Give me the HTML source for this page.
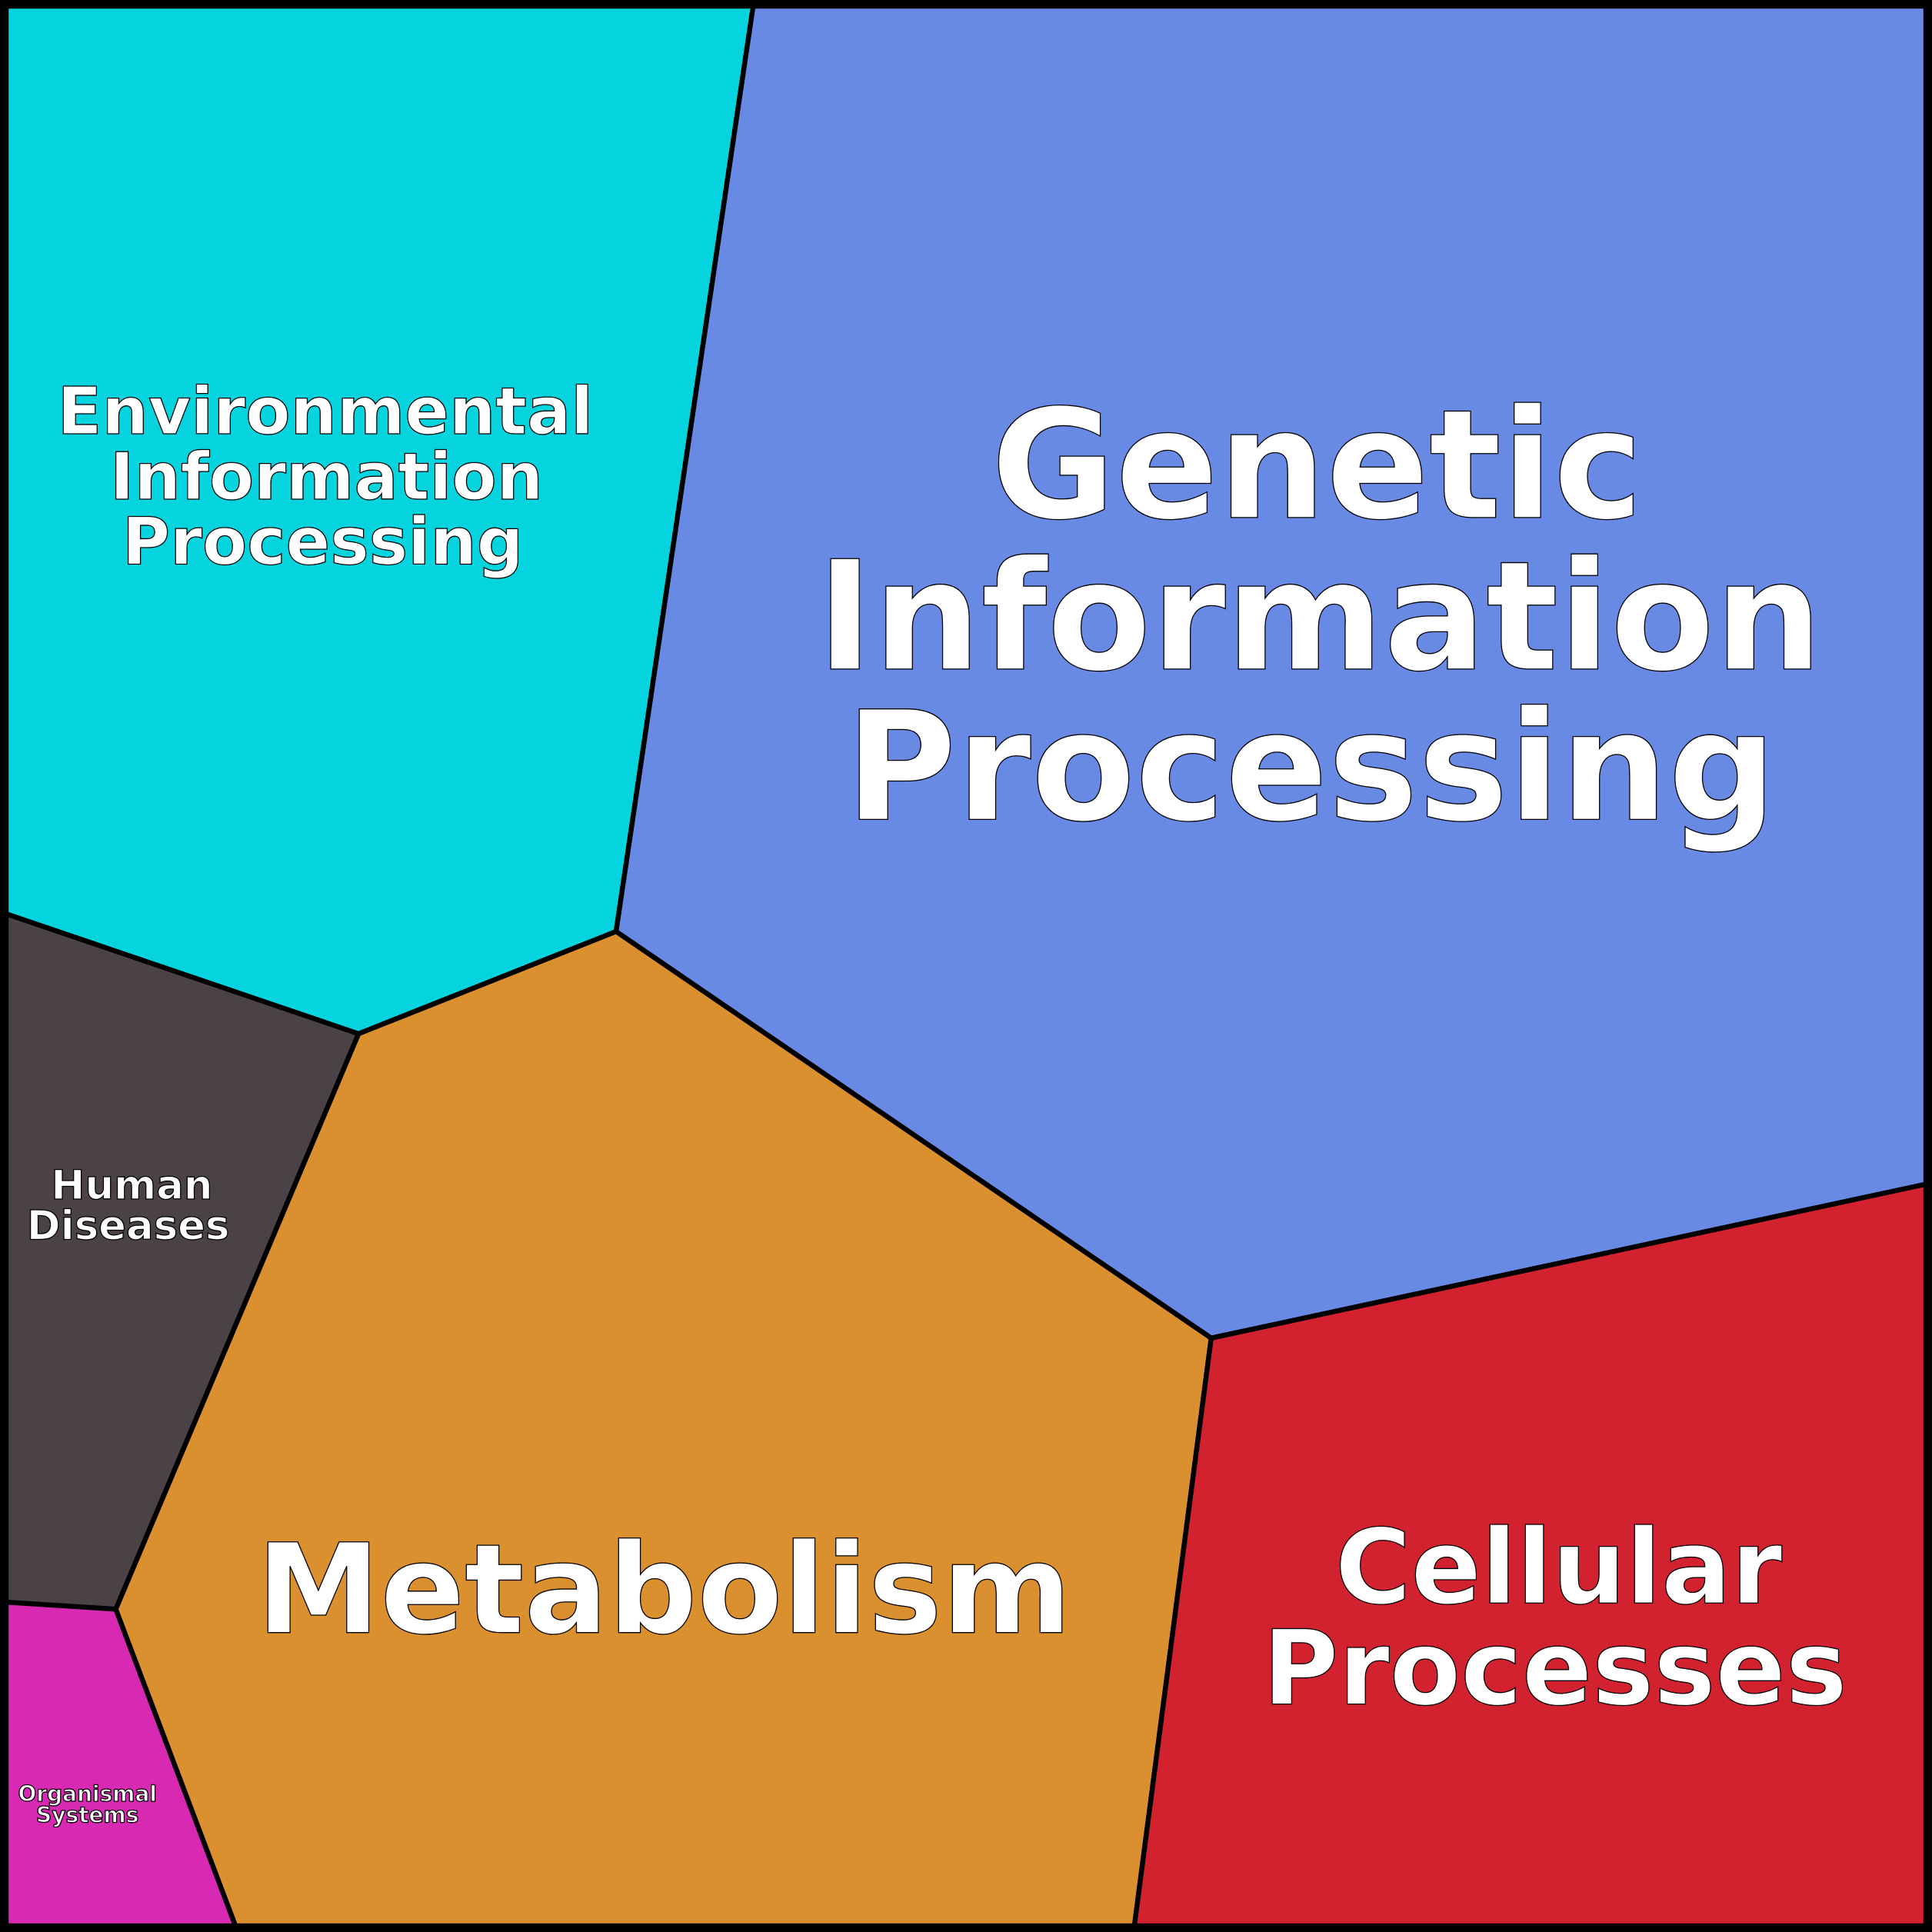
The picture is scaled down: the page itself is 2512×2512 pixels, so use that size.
<!DOCTYPE html>
<html><head><meta charset="utf-8"><style>
html,body{margin:0;padding:0;background:#000}
svg{display:block}
text{font-family:"DejaVu Sans","Liberation Sans",sans-serif;font-weight:bold;fill:#fff;stroke:#000;stroke-width:0.8;text-anchor:middle}
</style></head><body>
<svg width="2512" height="2512" viewBox="0 0 1568 1568" xmlns="http://www.w3.org/2000/svg">
<g stroke="#000" stroke-width="4" stroke-linejoin="round">
<polygon points="0,0 612,0 500,756 291,839 0,740" fill="#05D4DF"/>
<polygon points="612,0 1568,0 1568,960 983,1086 500,756" fill="#6889E4"/>
<polygon points="0,740 291,839 94,1306 0,1300" fill="#4B4248"/>
<polygon points="0,1300 94,1306 193,1568 0,1568" fill="#D829B2"/>
<polygon points="291,839 500,756 983,1086 920,1568 193,1568 94,1306" fill="#DB9030"/>
<polygon points="983,1086 1568,960 1568,1568 920,1568" fill="#D22230"/>
</g>
<rect x="3.5" y="3.5" width="1561" height="1561" fill="none" stroke="#000" stroke-width="7"/>
<text font-size="123" x="1069" y="420">Genetic</text>
<text font-size="123" x="1071" y="543">Information</text>
<text font-size="123" x="1064" y="665">Processing</text>
<text font-size="53" x="264" y="352">Environmental</text>
<text font-size="53" x="265" y="405">Information</text>
<text font-size="53" x="262" y="458">Processing</text>
<text font-size="33" x="107" y="973">Human</text>
<text font-size="33" x="104" y="1006">Diseases</text>
<text font-size="101" x="539" y="1325">Metabolism</text>
<text font-size="84" x="1265" y="1301">Cellular</text>
<text font-size="84" x="1262" y="1383">Processes</text>
<text font-size="17.5" x="71" y="1462" stroke-width="0.4">Organismal</text>
<text font-size="17.5" x="71" y="1479" stroke-width="0.4">Systems</text>
</svg>
</body></html>
